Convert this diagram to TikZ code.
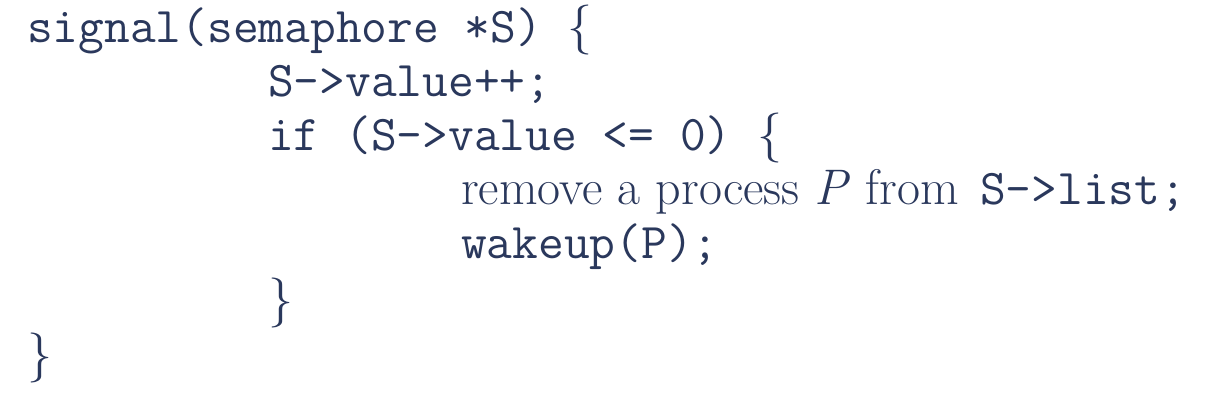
\documentclass[tikz,border=0pt]{standalone}
\usepackage{fontspec}
\definecolor{ink}{RGB}{42,56,92}
\begin{document}
\begin{tikzpicture}[x=1pt,y=1pt,
  code/.style={anchor=base west, inner sep=0pt, text=ink, font=\fontsize{50}{55}\selectfont}]
\useasboundingbox (0,0) rectangle (1206,400);
\node[code] (l1) at (27,358) {\texttt{signal(semaphore *S) }\{};
\node[code] (l2) at (268,304) {\texttt{S->value++;}};
\node[code] (l3) at (268,250) {\texttt{if (S->value <= 0) }\{};
\node[code] (l4) at (461,196) {remove a process \textit{P} from\hspace{6pt} \texttt{S->list;}};
\node[code] (l5) at (461,142) {\texttt{wakeup(P);}};
\node[code] (l6) at (268,85) {\}};
\node[code] (l7) at (27,30) {\}};
\end{tikzpicture}
\end{document}
